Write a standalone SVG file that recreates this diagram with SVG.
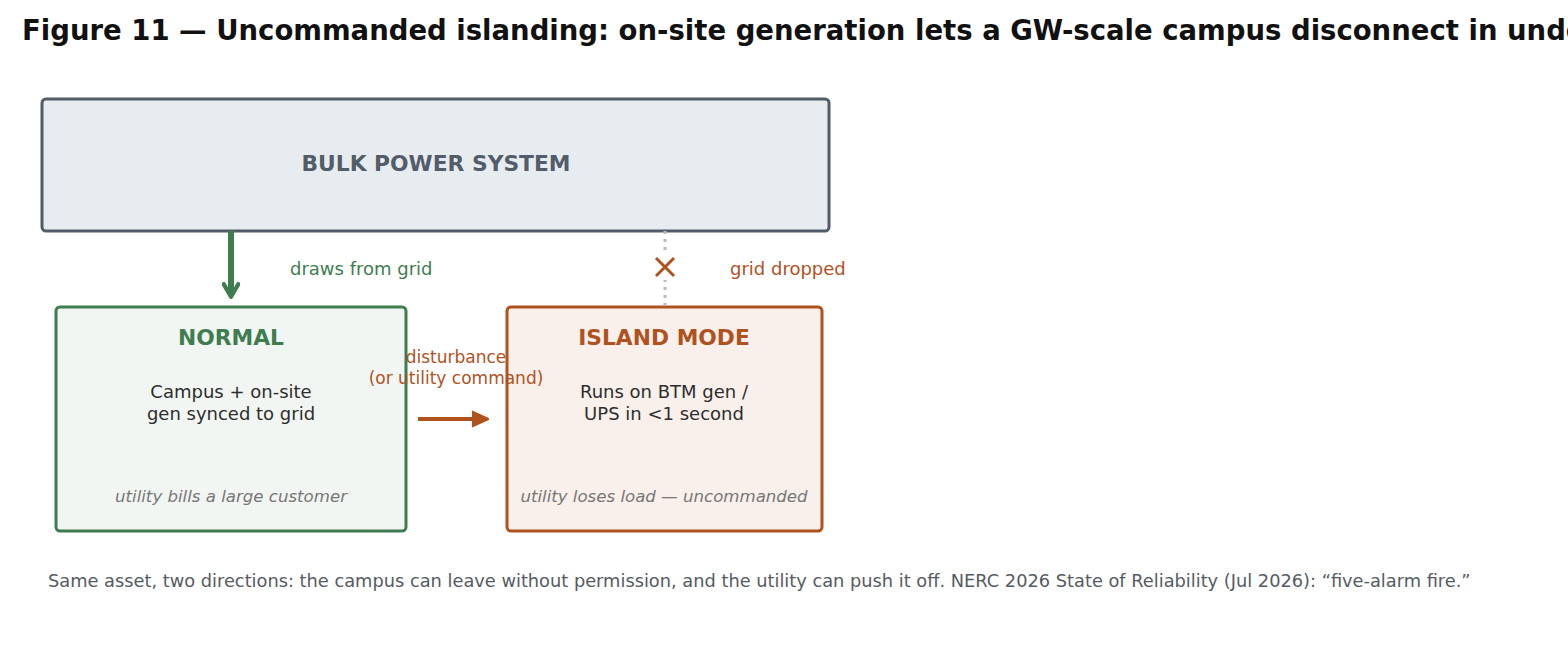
<svg xmlns="http://www.w3.org/2000/svg" width="1568" height="672" viewBox="0 0 1568 672">
<style>
text{font-family:"DejaVu Sans",sans-serif}
.t{font-size:18px;fill:#2d2d2d;text-anchor:middle}
.i{font-size:16.6px;font-style:italic;fill:#777;text-anchor:middle}
</style>
<defs>
<marker id="ag" viewBox="0 0 10 10" refX="7" refY="5" markerWidth="3" markerHeight="3" orient="auto"><path d="M1,1L8,5L1,9" fill="none" stroke="#3f7d50" stroke-width="2.4" stroke-linecap="round" stroke-linejoin="round"/></marker>
<marker id="ao" viewBox="0 0 10 10" refX="8" refY="5" markerWidth="4.5" markerHeight="4.5" orient="auto"><path d="M0,1L9,5L0,9z" fill="#b0521f" stroke="#b0521f" stroke-width="1.5" stroke-linejoin="round"/></marker>
</defs>
<rect width="1568" height="672" fill="#fff"/>
<text x="22" y="40" font-size="27.5" font-weight="bold" fill="#111">Figure 11 — Uncommanded islanding: on-site generation lets a GW-scale campus disconnect in under a second</text>
<g id="bulk"><rect x="42" y="99" width="787" height="132" rx="4" fill="#e7ecf1" stroke="#535d69" stroke-width="3"/>
<text x="436" y="171" font-size="21.8" font-weight="bold" fill="#535d69" text-anchor="middle">BULK POWER SYSTEM</text></g>
<g id="normal"><rect x="56" y="307" width="350" height="224" rx="4" fill="#f1f6f2" stroke="#3f7d50" stroke-width="3"/>
<text x="231" y="345" font-size="21.8" font-weight="bold" fill="#3f7d50" text-anchor="middle">NORMAL</text>
<text class="t" x="231" y="398">Campus + on-site</text><text class="t" x="231" y="420">gen synced to grid</text>
<text class="i" x="231" y="502">utility bills a large customer</text></g>
<g id="island"><rect x="507" y="307" width="315" height="224" rx="4" fill="#f9f0eb" stroke="#b0521f" stroke-width="3"/>
<text x="664" y="345" font-size="21.8" font-weight="bold" fill="#b0521f" text-anchor="middle">ISLAND MODE</text>
<text class="t" x="664" y="398">Runs on BTM gen /</text><text class="t" x="664" y="420">UPS in &lt;1 second</text>
<text class="i" x="664" y="502">utility loses load — uncommanded</text></g>
<g id="connectors">
<line x1="231" y1="231" x2="231" y2="295" stroke="#3f7d50" stroke-width="6" marker-end="url(#ag)"/>
<text x="290" y="275" font-size="18" fill="#3f7d50">draws from grid</text>
<line x1="665" y1="231" x2="665" y2="307" stroke="#bbb" stroke-width="3" stroke-dasharray="3,5"/>
<rect x="652" y="254" width="26" height="26" fill="#fff"/>
<path d="M656,258L674,276M674,258L656,276" stroke="#b0521f" stroke-width="3"/>
<text x="730" y="275" font-size="18" fill="#b0521f">grid dropped</text>
<line x1="418" y1="419" x2="486" y2="419" stroke="#b0521f" stroke-width="4" marker-end="url(#ao)"/>
<text x="456" y="363" font-size="17" fill="#b0521f" text-anchor="middle">disturbance</text>
<text x="456" y="384" font-size="17" fill="#b0521f" text-anchor="middle">(or utility command)</text>
</g>
<text x="48" y="587" font-size="17.8" fill="#555b63">Same asset, two directions: the campus can leave without permission, and the utility can push it off. NERC 2026 State of Reliability (Jul 2026): “five-alarm fire.”</text>
</svg>
